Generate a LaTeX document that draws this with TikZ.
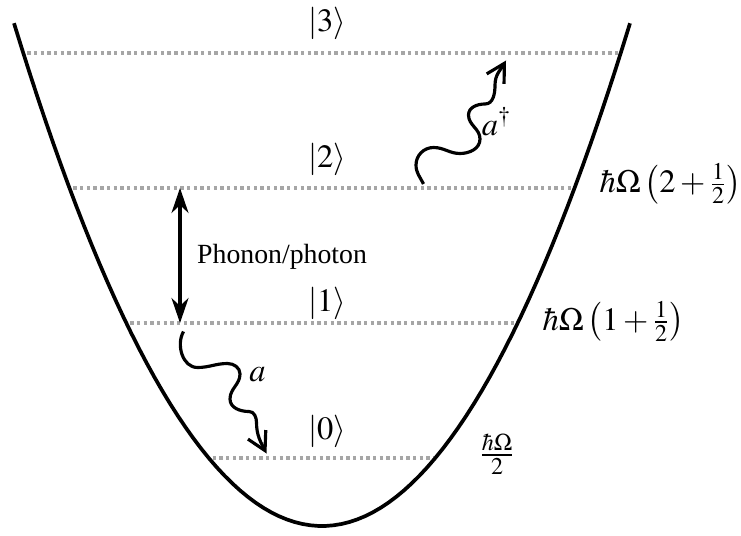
\documentclass[tikz,border=0pt]{standalone}
\usepackage{mathptmx}
\usepackage[no-math]{fontspec}
\setmainfont{Liberation Serif}
\usepackage{tikz}
\usetikzlibrary{arrows.meta,positioning}

\begin{document}
\begin{tikzpicture}[
  levelline/.style={gray!70, line width=1.8pt, dash pattern=on 1.9pt off 1.9pt},
  well/.style={line width=2.1pt},
  txt/.style={font=\fontsize{15.8}{18}\selectfont},
  mth/.style={font=\fontsize{18.5}{21}\selectfont},
  wavy/.style={line width=1.8pt, -{Straight Barb[length=3.6mm,width=4mm]}},
  transition/.style={line width=1.8pt, {Stealth[length=5mm,width=3.4mm,inset=1.6mm]}-{Stealth[length=5mm,width=3.4mm,inset=1.6mm]}}
]
\useasboundingbox (0,0) rectangle (14.82,10.7);

% Energy levels
\foreach \n/\y in {0/1.54, 1/4.24, 2/6.94, 3/9.64} {
  \pgfmathsetmacro\hw{sqrt((\y-0.18)/0.265)}
  \coordinate (L\n) at ({6.44-\hw+0.08}, \y);
  \coordinate (R\n) at ({6.44+\hw-0.04}, \y);
  \draw[levelline] (L\n) -- (R\n);
}

% Draw potential well
\draw[well] plot[domain=-6.16:6.16, samples=80] ({6.44+\x}, {0.18+0.265*\x*\x});

% Kets
\node[mth] (k0) at (6.54, 2.08) {$|0\rangle$};
\node[mth] (k1) at (6.54, 4.64) {$|1\rangle$};
\node[mth] (k2) at (6.54, 7.50) {$|2\rangle$};
\node[mth] (k3) at (6.54, 10.22) {$|3\rangle$};

% Energies
\node[mth, anchor=west] (e0) at (9.47, 1.62) {$\frac{\hbar\Omega}{2}$};
\node[mth, anchor=west] (e1) at (10.73, 4.27) {$\hbar\Omega\left(1+\frac{1}{2}\right)$};
\node[mth, anchor=west] (e2) at (11.87, 7.02) {$\hbar\Omega\left(2+\frac{1}{2}\right)$};

% Phonon/photon transition
\coordinate (up) at (3.6, 6.94);
\coordinate (down) at (3.6, 4.24);
\coordinate (mid) at (3.6, 5.56);
\draw[transition] (up) -- (down);
\node[txt, right=0.22cm of mid] (phonon) {Phonon/photon};

% Annihilation
\coordinate (anStart) at (3.67, 4.07);
\coordinate (anEnd) at (5.33, 1.63);
\draw[wavy] (anStart) to[out=240, in=180] (3.95, 3.35) to[out=0, in=180] (4.55, 3.43)
  to[out=0, in=90] (4.80, 3.22) to[out=-90, in=90] (4.60, 2.72)
  to[out=-90, in=180] (4.98, 2.47) to[out=0, in=90] (5.13, 2.25)
  to[out=-90, in=117] (anEnd);
\node[mth] (aLabel) at (5.15, 3.20) {$a$};

% Creation
\coordinate (crStart) at (8.47, 7.02);
\coordinate (crEnd) at (10.12, 9.49);
\draw[wavy] (crStart) to[out=116, in=-90] (8.32, 7.40) to[out=90, in=180] (8.67, 7.75)
  to[out=0, in=180] (9.20, 7.63) to[out=0, in=-90] (9.60, 7.92)
  to[out=90, in=-90] (9.37, 8.40) to[out=90, in=180] (9.70, 8.62)
  to[out=0, in=-90] (9.90, 9.00) to[out=90, in=240] (crEnd);
\node[mth] (adLabel) at (9.93, 8.27) {$a^\dagger$};
\end{tikzpicture}
\end{document}
